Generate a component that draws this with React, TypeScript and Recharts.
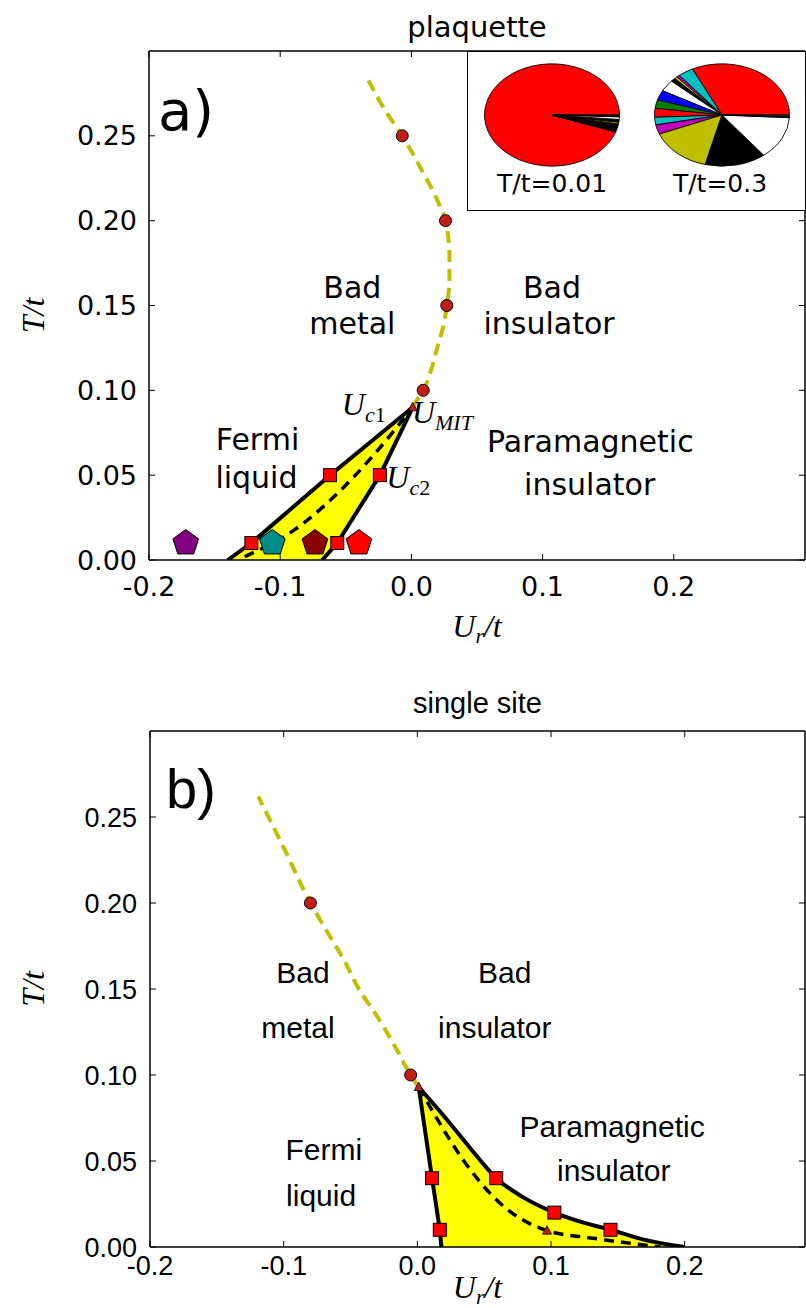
import React from 'react';
import {
  ComposedChart,
  Line,
  Area,
  Scatter,
  Cell,
  XAxis,
  YAxis,
  ReferenceDot,
  PieChart,
  Pie,
} from 'recharts';

// ---- shared ticks ----
const X_TICKS = [-0.2, -0.1, 0, 0.1, 0.2];
const Y_TICKS = [0, 0.05, 0.1, 0.15, 0.2, 0.25];

// ---- panel a: plaquette ----
const aCrossover = [
  { x: 0.001, y: 0.09 },
  { x: 0.004, y: 0.094 },
  { x: 0.009, y: 0.1 },
  { x: 0.015, y: 0.112 },
  { x: 0.02, y: 0.126 },
  { x: 0.025, y: 0.14 },
  { x: 0.027, y: 0.15 },
  { x: 0.029, y: 0.165 },
  { x: 0.029, y: 0.179 },
  { x: 0.026, y: 0.2 },
  { x: 0.021, y: 0.21 },
  { x: 0.007, y: 0.231 },
  { x: -0.007, y: 0.25 },
  { x: -0.02, y: 0.265 },
  { x: -0.033, y: 0.283 },
];
const aUc1 = [
  { x: -0.14, y: 0 },
  { x: -0.122, y: 0.01 },
  { x: -0.062, y: 0.05 },
  { x: 0.001, y: 0.09 },
];
const aUc2 = [
  { x: -0.068, y: 0 },
  { x: -0.0565, y: 0.01 },
  { x: -0.024, y: 0.05 },
  { x: 0.001, y: 0.09 },
];
const aUcMid = [
  { x: -0.127, y: 0.002 },
  { x: -0.0895, y: 0.0176 },
  { x: -0.0439, y: 0.049 },
  { x: -0.0109, y: 0.0784 },
  { x: 0.001, y: 0.09 },
];
const aCircles = [
  { x: -0.007, y: 0.25 },
  { x: 0.026, y: 0.2 },
  { x: 0.027, y: 0.15 },
  { x: 0.009, y: 0.1 },
];
const aTriangles = [{ x: 0.001, y: 0.09 }];
const aSquares = [
  { x: -0.062, y: 0.05 },
  { x: -0.024, y: 0.05 },
  { x: -0.122, y: 0.01 },
  { x: -0.0565, y: 0.01 },
];
const aPentagons = [
  { x: -0.172, y: 0.01 },
  { x: -0.106, y: 0.01 },
  { x: -0.0735, y: 0.01 },
  { x: -0.04, y: 0.01 },
];
const PENTAGON_COLORS = ['#800080', '#008b8b', '#8b0000', '#ff0000'];

// inset pies: slice sizes in degrees, matplotlib colour cycle
const PIE_COLORS = [
  '#ff0000', '#00bfbf', '#bf00bf', '#bfbf00', '#000000', '#ffffff', '#0000ff', '#008000',
  '#ff0000', '#00bfbf', '#bf00bf', '#bfbf00', '#000000', '#ffffff', '#0000ff', '#008000',
];
const pieLowT = [341, 0.6, 0.6, 0.6, 4, 0.6, 0.6, 0.6, 0.6, 0.6, 0.6, 2, 3, 3, 1, 1];
const pieHighT = [116, 13.3, 2.7, 2.6, 4, 13.1, 11.3, 9.5, 10.1, 8.6, 10.7, 53.7, 52.6, 48.8, 1.5, 1.5];

const A_LABELS = [
  { x: -0.045, y: 0.1542, text: 'Bad' },
  { x: -0.045, y: 0.1332, text: 'metal' },
  { x: 0.1072, y: 0.1542, text: 'Bad' },
  { x: 0.1049, y: 0.1332, text: 'insulator' },
  { x: -0.1173, y: 0.0648, text: 'Fermi' },
  { x: -0.1181, y: 0.0427, text: 'liquid' },
  { x: 0.1364, y: 0.0638, text: 'Paramagnetic' },
  { x: 0.1359, y: 0.0383, text: 'insulator' },
];
const A_MATH = [
  { x: -0.053, y: 0.0855, main: 'U', sub: 'c', num: '1' },
  { x: 0.0004, y: 0.0807, main: 'U', sub: 'MIT', num: '' },
  { x: -0.0191, y: 0.0424, main: 'U', sub: 'c', num: '2' },
];

// ---- panel b: single site ----
const bCrossover = [
  { x: 0.001, y: 0.093 },
  { x: -0.005, y: 0.1 },
  { x: -0.017, y: 0.117 },
  { x: -0.03, y: 0.134 },
  { x: -0.043, y: 0.149 },
  { x: -0.055, y: 0.167 },
  { x: -0.068, y: 0.184 },
  { x: -0.08, y: 0.2 },
  { x: -0.098, y: 0.229 },
  { x: -0.119, y: 0.262 },
];
const bUc1 = [
  { x: 0.001, y: 0.093 },
  { x: 0.011, y: 0.04 },
  { x: 0.0168, y: 0.01 },
  { x: 0.018, y: 0 },
];
const bUc2 = [
  { x: 0.001, y: 0.093 },
  { x: 0.02, y: 0.076 },
  { x: 0.039, y: 0.058 },
  { x: 0.059, y: 0.04 },
  { x: 0.079, y: 0.029 },
  { x: 0.1025, y: 0.02 },
  { x: 0.125, y: 0.014 },
  { x: 0.1445, y: 0.01 },
  { x: 0.171, y: 0.004 },
  { x: 0.2, y: 0 },
];
const bUcMid = [
  { x: 0.001, y: 0.093 },
  { x: 0.0094, y: 0.0816 },
  { x: 0.0343, y: 0.0506 },
  { x: 0.0593, y: 0.0273 },
  { x: 0.097, y: 0.0095 },
  { x: 0.1315, y: 0.0051 },
  { x: 0.182, y: 0 },
];
const bCircles = [
  { x: -0.08, y: 0.2 },
  { x: -0.005, y: 0.1 },
];
const bTriangles = [
  { x: 0.001, y: 0.093 },
  { x: 0.097, y: 0.0095 },
];
const bSquares = [
  { x: 0.011, y: 0.04 },
  { x: 0.0168, y: 0.01 },
  { x: 0.059, y: 0.04 },
  { x: 0.1025, y: 0.02 },
  { x: 0.1445, y: 0.01 },
];
const B_LABELS = [
  { x: -0.0855, y: 0.1533, text: 'Bad' },
  { x: -0.0893, y: 0.1213, text: 'metal' },
  { x: 0.0654, y: 0.1533, text: 'Bad' },
  { x: 0.0579, y: 0.1213, text: 'insulator' },
  { x: 0.1457, y: 0.0641, text: 'Paramagnetic' },
  { x: 0.1469, y: 0.0385, text: 'insulator' },
  { x: -0.07, y: 0.0506, text: 'Fermi' },
  { x: -0.072, y: 0.0238, text: 'liquid' },
];

const OLIVE = '#bfbf00';
const DARK_RED = '#c41d18';
const YELLOW = '#ffff00';
const MATH_FONT = 'Liberation Serif';

const circleShape = (p: any) => (
  <circle cx={p.cx} cy={p.cy} r={6} fill={DARK_RED} stroke="#000" strokeWidth={1} />
);
const squareShape = (p: any) => (
  <rect x={p.cx - 6.5} y={p.cy - 6.5} width={13} height={13} fill="#ff0000" stroke="#000" strokeWidth={1} />
);
const triangleShape = (p: any) => (
  <polygon
    points={`${p.cx},${p.cy - 5} ${p.cx - 4.5},${p.cy + 3.5} ${p.cx + 4.5},${p.cy + 3.5}`}
    fill={DARK_RED}
    stroke="#000"
    strokeWidth={0.8}
  />
);
const pentagonShape = (p: any) => {
  const R = 13.5;
  const pts = [0, 1, 2, 3, 4]
    .map((i) => {
      const a = ((-90 + 72 * i) * Math.PI) / 180;
      return `${p.cx + R * Math.cos(a)},${p.cy + R * Math.sin(a)}`;
    })
    .join(' ');
  return <polygon points={pts} fill={p.fill} stroke="#000" strokeWidth={1} />;
};

const textLabel = (text: string, family: string, size: number, anchor = 'middle') => (p: any) => (
  <text x={p.viewBox.x} y={p.viewBox.y} textAnchor={anchor} fontFamily={family} fontSize={size} fill="#000">
    {text}
  </text>
);

const mathLabel = (main: string, sub: string, num: string) => (p: any) => (
  <text x={p.viewBox.x} y={p.viewBox.y} fontFamily={MATH_FONT} fontSize={32} fill="#000">
    <tspan fontStyle="italic">{main}</tspan>
    <tspan dy={7} fontSize={22} fontStyle="italic">{sub}</tspan>
    {num && <tspan fontSize={22}>{num}</tspan>}
  </text>
);

const xLabel = (dy: number) => (p: any) => {
  const vb = p.viewBox;
  return (
    <text x={vb.x + vb.width / 2} y={vb.y + dy} textAnchor="middle" fontFamily={MATH_FONT} fontSize={32} fill="#000">
      <tspan fontStyle="italic">U</tspan>
      <tspan dy={6} fontSize={22} fontStyle="italic">r</tspan>
      <tspan dy={-6} fontStyle="italic">/t</tspan>
    </text>
  );
};

const yLabel = (bx: number, dy: number) => (p: any) => {
  const vb = p.viewBox;
  const cy = vb.y + vb.height / 2 + dy;
  return (
    <text
      x={bx}
      y={cy}
      transform={`rotate(-90, ${bx}, ${cy})`}
      textAnchor="middle"
      fontFamily={MATH_FONT}
      fontStyle="italic"
      fontSize={32}
      fill="#000"
    >
      T/t
    </text>
  );
};

const titleLabel = (text: string, family: string, dy: number) => (p: any) => {
  const vb = p.viewBox;
  return (
    <text x={vb.x + vb.width / 2} y={vb.y + dy} textAnchor="middle" fontFamily={family} fontSize={29} fill="#000">
      {text}
    </text>
  );
};

const axisLine = { stroke: '#000', strokeWidth: 1.5 };
const tickLine = { stroke: '#000', strokeWidth: 1 };

function Frame({ family, xDomain, yWidth, xHeight, xMargin, yMargin, title, titleDy, xLabelDy, yLabelDy }: any) {
  const tick = { fill: '#000', fontSize: 27, fontFamily: family };
  return [
    <XAxis
      key="xb"
      type="number"
      dataKey="x"
      domain={xDomain}
      allowDataOverflow
      ticks={X_TICKS}
      interval={0}
      tickFormatter={(v: number) => v.toFixed(1)}
      height={xHeight}
      tickSize={-6}
      tickMargin={xMargin}
      axisLine={axisLine}
      tickLine={tickLine}
      tick={tick}
      label={xLabel(xLabelDy)}
    />,
    <XAxis
      key="xt"
      xAxisId="top"
      orientation="top"
      type="number"
      dataKey="x"
      domain={xDomain}
      allowDataOverflow
      ticks={X_TICKS}
      interval={0}
      tickFormatter={() => ''}
      height={1}
      tickSize={-6}
      axisLine={axisLine}
      tickLine={tickLine}
      tick={tick}
      label={titleLabel(title, family, titleDy)}
    />,
    <YAxis
      key="yl"
      type="number"
      dataKey="y"
      domain={[0, 0.3]}
      allowDataOverflow
      ticks={Y_TICKS}
      interval={0}
      tickFormatter={(v: number) => v.toFixed(2)}
      width={yWidth}
      tickSize={-6}
      tickMargin={yMargin}
      axisLine={axisLine}
      tickLine={tickLine}
      tick={tick}
      label={yLabel(44, yLabelDy)}
    />,
    <YAxis
      key="yr"
      yAxisId="right"
      orientation="right"
      type="number"
      dataKey="y"
      domain={[0, 0.3]}
      allowDataOverflow
      ticks={Y_TICKS}
      interval={0}
      tickFormatter={() => ''}
      width={1}
      tickSize={-6}
      axisLine={axisLine}
      tickLine={tickLine}
      tick={tick}
    />,
  ];
}

const areaProps = { fillOpacity: 1, stroke: 'none', isAnimationActive: false, shapeRendering: 'crispEdges' } as any;

function PanelA() {
  const family = 'DejaVu Sans';
  return (
    <ComposedChart width={806} height={660} margin={{ top: 50, right: 0, bottom: 0, left: 0 }}>
      {Frame({
        family,
        xDomain: [-0.2, 0.3],
        yWidth: 149,
        xHeight: 100,
        xMargin: 23,
        yMargin: 18,
        title: 'plaquette',
        titleDy: -13,
        xLabelDy: 77,
        yLabelDy: 10,
      })}
      {/* coexistence region: under Uc1, minus under Uc2 */}
      <Area data={aUc1} dataKey="y" type="linear" fill={YELLOW} {...areaProps} />
      <Area data={aUc2} dataKey="y" type="linear" fill="#fff" {...areaProps} />
      <Line data={aUc1} dataKey="y" type="linear" stroke="#000" strokeWidth={4} dot={false} isAnimationActive={false} />
      <Line data={aUc2} dataKey="y" type="linear" stroke="#000" strokeWidth={4} dot={false} isAnimationActive={false} />
      <Line data={aUcMid} dataKey="y" type="monotone" stroke="#000" strokeWidth={3.5} strokeDasharray="10 7" dot={false} isAnimationActive={false} />
      <Line
        data={aCrossover}
        xAxisId="top"
        yAxisId="right"
        dataKey="y"
        type="monotoneY"
        stroke={OLIVE}
        strokeWidth={4}
        strokeDasharray="12 7"
        dot={false}
        isAnimationActive={false}
      />
      <Scatter data={aCircles} dataKey="y" shape={circleShape} isAnimationActive={false} />
      <Scatter data={aSquares} dataKey="y" shape={squareShape} isAnimationActive={false} />
      <Scatter data={aPentagons} dataKey="y" shape={pentagonShape} isAnimationActive={false}>
        {aPentagons.map((_, i) => (
          <Cell key={i} fill={PENTAGON_COLORS[i]} />
        ))}
      </Scatter>
      <Scatter data={aTriangles} dataKey="y" shape={triangleShape} isAnimationActive={false} />
      <ReferenceDot x={-0.1931} y={0.2534} r={0} label={textLabel('a)', family, 56, 'start')} />
      {A_LABELS.map((l, i) => (
        <ReferenceDot key={'al' + i} x={l.x} y={l.y} r={0} label={textLabel(l.text, family, 30)} />
      ))}
      {A_MATH.map((l, i) => (
        <ReferenceDot key={'am' + i} x={l.x} y={l.y} r={0} label={mathLabel(l.main, l.sub, l.num)} />
      ))}
    </ComposedChart>
  );
}

function PanelB() {
  const family = 'Liberation Sans';
  return (
    <ComposedChart width={806} height={648} margin={{ top: 70, right: 0, bottom: 0, left: 0 }}>
      {Frame({
        family,
        xDomain: [-0.2, 0.29],
        yWidth: 150,
        xHeight: 61,
        xMargin: 15,
        yMargin: 19,
        title: 'single site',
        titleDy: -17,
        xLabelDy: 51,
        yLabelDy: 0,
      })}
      {/* coexistence region: under Uc2, minus under Uc1 */}
      <Area data={bUc2} dataKey="y" type="monotone" fill={YELLOW} {...areaProps} />
      <Area data={bUc1} dataKey="y" type="linear" fill="#fff" {...areaProps} />
      <Line data={bUc1} dataKey="y" type="linear" stroke="#000" strokeWidth={4} dot={false} isAnimationActive={false} />
      <Line data={bUc2} dataKey="y" type="monotone" stroke="#000" strokeWidth={4} dot={false} isAnimationActive={false} />
      <Line data={bUcMid} dataKey="y" type="monotone" stroke="#000" strokeWidth={3.5} strokeDasharray="10 7" dot={false} isAnimationActive={false} />
      <Line
        data={bCrossover}
        xAxisId="top"
        yAxisId="right"
        dataKey="y"
        type="monotoneY"
        stroke={OLIVE}
        strokeWidth={4}
        strokeDasharray="12 7"
        dot={false}
        isAnimationActive={false}
      />
      <Scatter data={bCircles} dataKey="y" shape={circleShape} isAnimationActive={false} />
      <Scatter data={bSquares} dataKey="y" shape={squareShape} isAnimationActive={false} />
      <Scatter data={bTriangles} dataKey="y" shape={triangleShape} isAnimationActive={false} />
      <ReferenceDot x={-0.188} y={0.2551} r={0} label={textLabel('b)', family, 56, 'start')} />
      {B_LABELS.map((l, i) => (
        <ReferenceDot key={'bl' + i} x={l.x} y={l.y} r={0} label={textLabel(l.text, family, 30)} />
      ))}
    </ComposedChart>
  );
}

function Inset() {
  const low = pieLowT.map((v, i) => ({ name: 's' + i, value: v }));
  const high = pieHighT.map((v, i) => ({ name: 's' + i, value: v }));
  return (
    <div
      style={{
        position: 'absolute',
        left: 467,
        top: 51,
        width: 339,
        height: 160,
        boxSizing: 'border-box',
        border: '1.5px solid #000',
        background: '#fff',
        overflow: 'hidden',
      }}
    >
      <div style={{ position: 'absolute', left: -1.5, top: -7.5, width: 339, height: 140, transform: 'scaleY(0.758)' }}>
        <PieChart width={339} height={140} margin={{ top: 0, right: 0, bottom: 0, left: 0 }}>
          <Pie data={low} dataKey="value" cx={85} cy={70} outerRadius={67.5} startAngle={0} endAngle={360} stroke="#000" strokeWidth={1} isAnimationActive={false}>
            {low.map((_, i) => (
              <Cell key={i} fill={PIE_COLORS[i]} />
            ))}
          </Pie>
          <Pie data={high} dataKey="value" cx={255} cy={70} outerRadius={67.5} startAngle={0} endAngle={360} stroke="#000" strokeWidth={1} isAnimationActive={false}>
            {high.map((_, i) => (
              <Cell key={i} fill={PIE_COLORS[i]} />
            ))}
          </Pie>
        </PieChart>
      </div>
      <svg width={339} height={160} style={{ position: 'absolute', left: -1.5, top: -1.5 }}>
        <text x={85} y={140.5} textAnchor="middle" fontFamily="DejaVu Sans" fontSize={25} fill="#000">T/t=0.01</text>
        <text x={253} y={140.5} textAnchor="middle" fontFamily="DejaVu Sans" fontSize={25} fill="#000">T/t=0.3</text>
      </svg>
    </div>
  );
}

export default function App() {
  return (
    <div style={{ position: 'absolute', left: 0, top: 0, width: 806, height: 1308, background: '#fff', overflow: 'hidden' }}>
      <div style={{ position: 'absolute', left: 0, top: 0 }}>
        <PanelA />
      </div>
      <Inset />
      <div style={{ position: 'absolute', left: 0, top: 660 }}>
        <PanelB />
      </div>
    </div>
  );
}
